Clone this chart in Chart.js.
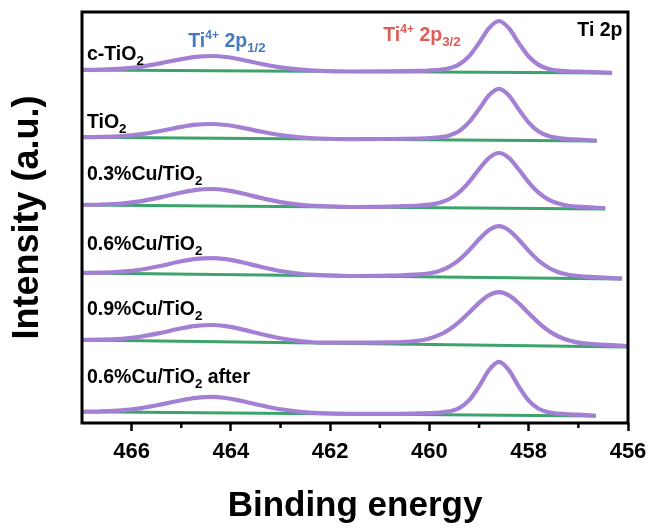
<!DOCTYPE html>
<html>
<head>
<meta charset="utf-8">
<title>Ti 2p XPS</title>
<script src="https://cdn.jsdelivr.net/npm/chart.js@4.4.1/dist/chart.umd.min.js"></script>
<style>
  html, body { margin: 0; padding: 0; background: #fff; }
  #wrap { width: 663px; height: 529px; }
</style>
</head>
<body>
<div id="wrap"><canvas id="xps" width="663" height="529"></canvas></div>
<script>
// ---- data ----
// binding energy grid (eV), shared by all spectra; each spectrum adds its own last point
const energy = [467.0, 466.6, 466.2, 465.8, 465.4, 465.0, 464.7, 464.4, 464.1, 463.8,
                463.4, 463.0, 462.6, 462.2, 461.6, 460.8, 460.2, 460.0, 459.8, 459.6,
                459.4, 459.2, 459.0, 458.8, 458.6, 458.4, 458.2, 458.0, 457.8, 457.6,
                457.4, 457.2, 457.0];
const endEnergy = [456.32, 456.63, 456.46, 456.12, 456.02, 456.65];

const sampleNames = ['c-TiO_{2}', 'TiO_{2}', '0.3%Cu/TiO_{2}', '0.6%Cu/TiO_{2}', '0.9%Cu/TiO_{2}', '0.6%Cu/TiO_{2} after'];

// fitted envelopes, intensity relative to each spectrum's start (a.u.)
const fitCTiO2 = [0.1, 0.4, 1.3, 3.4, 6.9, 10.9, 13.2, 14.0, 13.0, 10.5, 6.3, 2.7, 0.3, -0.9, -1.5, -1.3, -0.8,
                  -0.5, 0.1, 1.7, 5.6, 13.8, 27.1, 41.9, 49.0, 41.8, 26.9, 13.5, 5.1, 1.1, -0.6, -1.3, -1.7, -2.8];
const fitTiO2 = [0.1, 0.4, 1.2, 3.2, 6.5, 10.4, 12.6, 13.3, 12.3, 9.9, 5.8, 2.3, 0.0, -1.2, -1.8, -1.7, -1.2,
                 -0.8, 0.0, 1.9, 6.4, 15.1, 28.2, 42.0, 48.4, 41.8, 27.9, 14.7, 5.8, 1.2, -0.8, -1.8, -2.3, -3.4];
const fitCu03 = [0.2, 0.5, 1.5, 3.9, 7.9, 12.5, 15.1, 16.0, 14.9, 12.0, 7.1, 2.9, 0.1, -1.2, -2.0, -1.6, -0.5,
                 0.3, 2.3, 6.0, 12.9, 23.2, 35.8, 47.2, 52.0, 47.1, 35.5, 22.7, 12.3, 5.3, 1.4, -0.7, -1.7, -3.2];
const fitCu06 = [0.2, 0.3, 1.3, 3.5, 7.3, 11.7, 14.1, 14.9, 13.8, 11.0, 6.2, 2.0, -0.8, -2.2, -3.0, -2.6, -1.4,
                 -0.2, 2.1, 6.3, 13.2, 22.7, 33.7, 43.0, 46.9, 42.8, 33.2, 22.1, 12.3, 5.2, 0.7, -1.8, -3.2, -5.4];
const fitCu09 = [0.2, 0.3, 1.2, 3.5, 7.3, 11.7, 14.2, 15.0, 13.8, 10.9, 6.0, 1.7, -1.1, -2.6, -2.6, -2.4, -0.5,
                 1.6, 5.1, 10.6, 18.2, 27.5, 37.2, 44.8, 47.8, 44.6, 36.7, 26.7, 17.2, 9.3, 3.5, -0.3, -2.6, -6.0];
const fitCu06After = [0.1, 0.4, 1.4, 3.6, 7.3, 11.5, 13.9, 14.8, 13.7, 11.0, 6.4, 2.4, -0.1, -1.4, -2.1, -2.1, -1.7,
                      -1.5, -1.0, 0.3, 3.6, 11.5, 25.4, 41.7, 49.8, 41.6, 25.1, 11.0, 3.0, -0.6, -2.0, -2.7, -3.0, -4.1];
const fits = [fitCTiO2, fitTiO2, fitCu03, fitCu06, fitCu09, fitCu06After];

// vertical stacking offset of each spectrum, and background level at its low-BE end
const offsets = [353, 285.7, 218, 150, 83, 11.3];
const bgEnd = [-3, -3.7, -4, -6, -7, -4.3];

const xTicks = [466, 464, 462, 460, 458, 456];
const xMinor = [465, 463, 461, 459, 457];

// ---- style ----
const FONT = '"Liberation Sans", Arial, Helvetica, sans-serif';
const FIT_COLOR = '#a480d4';
const BG_COLOR = '#3ca36b';

// sample names: energy of left edge, height above spectrum start
const nameAnchor = { x: 466.9, lift: [15, 14.5, 30, 28, 30, 34], size: 19.5 };
const peakLabels = [
    { text: 'Ti^{4+} 2p_{1/2}', x: 464.86, y: 381, color: '#4479c4' },
    { text: 'Ti^{4+} 2p_{3/2}', x: 460.93, y: 387, color: '#df5b57' },
    { text: 'Ti 2p', x: 457.02, y: 392, color: '#000' }
];

// ---- datasets ----
const datasets = [];
fits.forEach((fit, i) => {
    const xs = energy.concat(endEnergy[i]);
    datasets.push({
        label: sampleNames[i],
        data: xs.map((e, j) => ({ x: e, y: offsets[i] + fit[j] })),
        borderColor: FIT_COLOR,
        borderWidth: 4.2,
        pointRadius: 0,
        cubicInterpolationMode: 'monotone',
        order: 1
    });
    datasets.push({
        label: sampleNames[i] + ' background',
        data: [{ x: energy[0], y: offsets[i] }, { x: endEnergy[i], y: offsets[i] + bgEnd[i] }],
        borderColor: BG_COLOR,
        borderWidth: 3,
        pointRadius: 0,
        order: 2
    });
});

// text with ^{sup} and _{sub} parts
function drawRich(ctx, str, x, y, size, color) {
    const parts = str.split(/(\^\{[^}]*\}|_\{[^}]*\})/).filter(p => p.length);
    let cx = x;
    ctx.fillStyle = color;
    ctx.textBaseline = 'middle';
    ctx.textAlign = 'left';
    parts.forEach(p => {
        let s = size, dy = 0, t = p;
        if (p[0] === '^') { t = p.slice(2, -1); s = size * 0.62; dy = -size * 0.3; }
        else if (p[0] === '_') { t = p.slice(2, -1); s = size * 0.68; dy = size * 0.32; }
        ctx.font = `bold ${s}px ${FONT}`;
        ctx.fillText(t, cx, y + dy);
        cx += ctx.measureText(t).width;
    });
}

const decorations = {
    id: 'decorations',
    afterDatasetsDraw(chart) {
        const { ctx, chartArea: a, scales: { x, y } } = chart;
        ctx.save();
        // minor ticks
        ctx.strokeStyle = '#000';
        ctx.lineWidth = 2.5;
        xMinor.forEach(v => {
            const px = x.getPixelForValue(v);
            ctx.beginPath();
            ctx.moveTo(px, a.bottom);
            ctx.lineTo(px, a.bottom + 5);
            ctx.stroke();
        });
        // frame
        ctx.lineWidth = 3;
        ctx.strokeRect(a.left, a.top, a.right - a.left, a.bottom - a.top);

        // sample names
        sampleNames.forEach((name, i) => {
            drawRich(ctx, name, x.getPixelForValue(nameAnchor.x),
                     y.getPixelForValue(offsets[i] + nameAnchor.lift[i]), nameAnchor.size, '#000');
        });
        // peak labels
        peakLabels.forEach(l => {
            drawRich(ctx, l.text, x.getPixelForValue(l.x), y.getPixelForValue(l.y), 19.5, l.color);
        });
        ctx.restore();
    }
};

new Chart(document.getElementById('xps'), {
    type: 'line',
    data: { datasets },
    options: {
        responsive: false,
        animation: false,
        layout: { padding: { left: 0, right: 35, top: 12, bottom: 0 } },
        plugins: { legend: { display: false }, tooltip: { enabled: false } },
        scales: {
            x: {
                type: 'linear',
                reverse: true,
                min: 456,
                max: 467,
                afterFit: s => { s.height = 106; },
                afterBuildTicks: s => { s.ticks = xTicks.map(v => ({ value: v })); },
                ticks: {
                    color: '#000',
                    padding: 8,
                    maxRotation: 0,
                    font: { family: FONT, size: 22, weight: 'bold' }
                },
                grid: {
                    drawOnChartArea: false,
                    tickLength: 8,
                    tickColor: '#000',
                    tickWidth: 2.5
                },
                border: { display: false },
                title: {
                    display: true,
                    text: 'Binding energy',
                    color: '#000',
                    font: { family: FONT, size: 35, weight: 'bold' },
                    padding: { top: 0, bottom: 2 }
                }
            },
            y: {
                min: 0,
                max: 411,
                afterFit: s => { s.width = 82; },
                ticks: { display: false },
                grid: { display: false },
                border: { display: false },
                title: {
                    display: true,
                    text: 'Intensity (a.u.)',
                    color: '#000',
                    font: { family: FONT, size: 36, weight: 'bold' },
                    padding: { top: 6, bottom: 0 }
                }
            }
        }
    },
    plugins: [decorations]
});
</script>
</body>
</html>
